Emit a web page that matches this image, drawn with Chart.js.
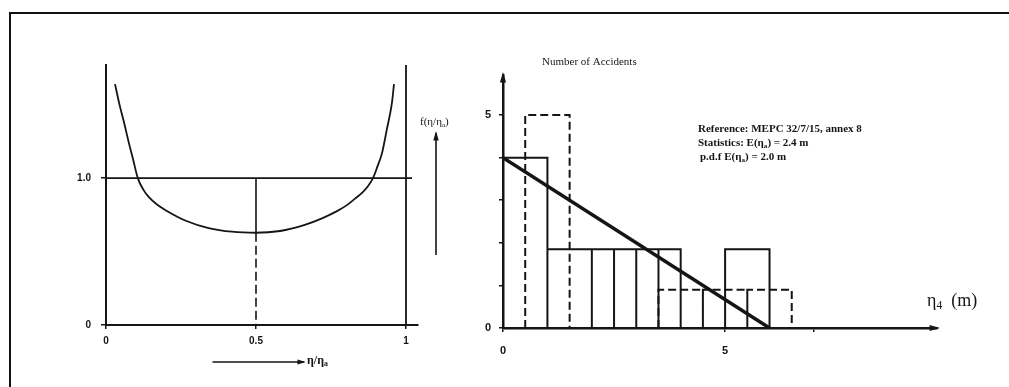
<!DOCTYPE html>
<html>
<head>
<meta charset="utf-8">
<script src="https://cdn.jsdelivr.net/npm/chart.js@4"></script>
<style>
  body { margin: 0; background: #fff; }
  .wrap { position: relative; width: 1009px; height: 387px; overflow: hidden; }
  .frame { position: absolute; left: 9px; top: 12px; width: 1100px; height: 400px;
           border-top: 2px solid #111; border-left: 2px solid #111; }
  #left { position: absolute; left: 0; top: 0; }
  #right { position: absolute; left: 470px; top: 0; }
</style>
</head>
<body>
<div class="wrap">
  <div class="frame"></div>
  <canvas id="left" width="470" height="387"></canvas>
  <canvas id="right" width="539" height="387"></canvas>
</div>
<script>
// left panel: f(eta/eta_a) curve
const curveX = [0.03, 0.045, 0.06, 0.075, 0.09, 0.106, 0.125, 0.143, 0.17, 0.2, 0.266, 0.342, 0.42, 0.5, 0.58, 0.66, 0.722, 0.77, 0.803, 0.83, 0.856, 0.875, 0.89, 0.905, 0.92, 0.936, 0.953, 0.96];
const curveY = [1.64, 1.5, 1.38, 1.25, 1.13, 1.0, 0.92, 0.87, 0.82, 0.78, 0.71, 0.66, 0.635, 0.628, 0.64, 0.68, 0.728, 0.775, 0.816, 0.86, 0.905, 0.95, 1.0, 1.08, 1.17, 1.33, 1.51, 1.64];
const leftXTicks = [0, 0.5, 1];
const leftXLabels = ['0', '0.5', '1'];
const leftYTicks = [0, 1];
const leftYLabels = ['0', '1.0'];

// right panel: histograms of accidents (bin start, bin end, count)
const solidStart = [0, 1, 2, 2.5, 3, 3.5, 5];
const solidEnd = [1, 2, 2.5, 3, 3.5, 4, 6];
const solidCount = [4, 1.85, 1.85, 1.85, 1.85, 1.85, 1.85];
const dashStart = [0.5, 3.5, 4.5, 5.5];
const dashEnd = [1.5, 4.5, 5.5, 6.5];
const dashCount = [5, 0.9, 0.9, 0.9];
const trendX = [0, 6];
const trendY = [4, 0];
const rightXTicks = [0, 5, 7];
const rightXLabels = ['0', '5', ''];
const rightYTicks = [0, 1, 2, 3, 4, 5];
const rightYLabels = ['0', '', '', '', '', '5'];

const INK = '#151515';

// turns bins into outline points, null breaks the line between bins
const outline = (starts, ends, counts) => {
    const pts = [];
    starts.forEach((s, i) => {
        pts.push({x: s, y: 0}, {x: s, y: counts[i]}, {x: ends[i], y: counts[i]}, {x: ends[i], y: 0});
        pts.push({x: ends[i], y: null});
    });
    return pts;
};

const setTicks = (values) => (scale) => {
    scale.ticks = values.map(v => ({value: v}));
};

const arrow = (ctx, x1, y1, x2, y2, head) => {
    const a = Math.atan2(y2 - y1, x2 - x1);
    ctx.beginPath();
    ctx.moveTo(x1, y1);
    ctx.lineTo(x2, y2);
    ctx.stroke();
    ctx.beginPath();
    ctx.moveTo(x2 + Math.cos(a) * 2, y2 + Math.sin(a) * 2);
    ctx.lineTo(x2 - Math.cos(a - 0.35) * head, y2 - Math.sin(a - 0.35) * head);
    ctx.lineTo(x2 - Math.cos(a + 0.35) * head, y2 - Math.sin(a + 0.35) * head);
    ctx.closePath();
    ctx.fill();
};

// text with a subscript piece, parts = [[text, isSub], ...]
const subText = (ctx, parts, x, y, size, family, weight) => {
    let cx = x;
    parts.forEach(([t, sub]) => {
        const s = sub ? size * 0.65 : size;
        ctx.font = `${weight} ${s}px ${family}`;
        ctx.fillText(t, cx, sub ? y + size * 0.25 : y);
        cx += ctx.measureText(t).width;
    });
};

const leftDeco = {
    id: 'leftDeco',
    afterDraw(chart) {
        const ctx = chart.ctx;
        const xs = chart.scales.x;
        ctx.save();
        ctx.strokeStyle = INK;
        ctx.fillStyle = INK;
        ctx.lineWidth = 1.6;
        ctx.textBaseline = 'middle';
        // f(eta/eta_a) label with upward arrow
        subText(ctx, [['f(η/η', false], ['a', true], [')', false]], xs.right + 2, 122, 11, 'Liberation Serif', 'normal');
        arrow(ctx, xs.right + 18, 255, xs.right + 18, 133, 8);
        // eta/eta_a label with arrow under the x axis
        arrow(ctx, xs.getPixelForValue(0.355), 362, xs.getPixelForValue(0.66), 362, 7);
        subText(ctx, [['η/η', false], ['a', true]], xs.getPixelForValue(0.67), 361, 12, 'Liberation Serif', 'bold');
        ctx.restore();
    }
};

const rightDeco = {
    id: 'rightDeco',
    afterDraw(chart) {
        const ctx = chart.ctx;
        const {left, right, top, bottom} = chart.chartArea;
        ctx.save();
        ctx.strokeStyle = INK;
        ctx.fillStyle = INK;
        ctx.lineWidth = 2;
        // axis arrow heads
        arrow(ctx, left, top + 20, left, top - 1, 9);
        arrow(ctx, right - 20, bottom, right + 1, bottom, 9);
        ctx.textBaseline = 'middle';
        ctx.font = '11px Liberation Serif';
        ctx.fillText('Number of Accidents', left + 39, 62);
        ctx.font = 'bold 11px Liberation Serif';
        ctx.fillText('Reference: MEPC 32/7/15, annex 8', left + 195, 129);
        subText(ctx, [['Statistics: E(η', false], ['a', true], [') = 2.4 m', false]], left + 195, 143, 11, 'Liberation Serif', 'bold');
        subText(ctx, [['p.d.f E(η', false], ['a', true], [') = 2.0 m', false]], left + 197, 157, 11, 'Liberation Serif', 'bold');
        subText(ctx, [['η', false], ['4', true], ['  (m)', false]], right - 10, 301, 18, 'Liberation Serif', 'normal');
        ctx.restore();
    }
};

const leftChart = () => {
    const data = {
        datasets: [
            {
                data: curveX.map((x, i) => ({x: x, y: curveY[i]})),
                borderColor: INK, borderWidth: 1.8, cubicInterpolationMode: 'monotone', pointRadius: 0
            },
            {
                data: [{x: 0, y: 1}, {x: 1.02, y: 1}],
                borderColor: INK, borderWidth: 1.6, pointRadius: 0
            },
            {
                data: [{x: 0.5, y: 1}, {x: 0.5, y: 0.628}],
                borderColor: INK, borderWidth: 1.6, pointRadius: 0
            },
            {
                data: [{x: 0.5, y: 0.628}, {x: 0.5, y: 0}],
                borderColor: INK, borderWidth: 1.6, borderDash: [9, 4], pointRadius: 0
            },
            {
                data: [{x: 1, y: 0}, {x: 1, y: 1.77}],
                borderColor: INK, borderWidth: 1.8, pointRadius: 0
            }
        ]
    };
    const config = {
        type: 'line',
        data: data,
        options: {
            responsive: false,
            animation: false,
            layout: {padding: {top: 65, right: 52, left: 0, bottom: 0}},
            plugins: {legend: {display: false}, tooltip: {enabled: false}},
            scales: {
                x: {
                    type: 'linear', min: 0, max: 1.04,
                    afterBuildTicks: setTicks(leftXTicks),
                    afterFit: (s) => { s.height = 62; },
                    border: {display: true, color: INK, width: 2},
                    grid: {drawOnChartArea: false, tickLength: 4, color: INK, lineWidth: 1.5},
                    ticks: {
                        padding: 6, color: INK,
                        font: {family: 'Liberation Sans', size: 10, weight: 'bold'},
                        callback: (v) => leftXLabels[leftXTicks.indexOf(v)]
                    }
                },
                y: {
                    type: 'linear', min: 0, max: 1.77,
                    afterBuildTicks: setTicks(leftYTicks),
                    afterFit: (s) => { s.width = 106; },
                    border: {display: true, color: INK, width: 2},
                    grid: {drawOnChartArea: false, tickLength: 5, color: INK, lineWidth: 1.5},
                    ticks: {
                        padding: 10, color: INK,
                        font: {family: 'Liberation Sans', size: 10, weight: 'bold'},
                        callback: (v) => leftYLabels[leftYTicks.indexOf(v)]
                    }
                }
            }
        },
        plugins: [leftDeco]
    };
    new Chart(document.querySelector('#left'), config);
};

const rightChart = () => {
    const data = {
        datasets: [
            {
                data: outline(solidStart, solidEnd, solidCount),
                borderColor: INK, borderWidth: 2, pointRadius: 0, spanGaps: false
            },
            {
                data: outline(dashStart, dashEnd, dashCount),
                borderColor: INK, borderWidth: 2, borderDash: [8, 4], pointRadius: 0, spanGaps: false
            },
            {
                data: trendX.map((x, i) => ({x: x, y: trendY[i]})),
                borderColor: INK, borderWidth: 3.5, pointRadius: 0
            }
        ]
    };
    const config = {
        type: 'line',
        data: data,
        options: {
            responsive: false,
            animation: false,
            layout: {padding: {top: 75, right: 72, left: 0, bottom: 0}},
            plugins: {legend: {display: false}, tooltip: {enabled: false}},
            scales: {
                x: {
                    type: 'linear', min: 0, max: 9.77,
                    afterBuildTicks: setTicks(rightXTicks),
                    afterFit: (s) => { s.height = 59; },
                    border: {display: true, color: INK, width: 2.5},
                    grid: {drawOnChartArea: false, tickLength: 4, color: INK, lineWidth: 1.5},
                    ticks: {
                        padding: 12, color: INK,
                        font: {family: 'Liberation Sans', size: 11, weight: 'bold'},
                        callback: (v) => rightXLabels[rightXTicks.indexOf(v)]
                    }
                },
                y: {
                    type: 'linear', min: 0, max: 5.94,
                    afterBuildTicks: setTicks(rightYTicks),
                    afterFit: (s) => { s.width = 33; },
                    border: {display: true, color: INK, width: 2.5},
                    grid: {drawOnChartArea: false, tickLength: 4, color: INK, lineWidth: 1.5},
                    ticks: {
                        padding: 8, color: INK,
                        font: {family: 'Liberation Sans', size: 11, weight: 'bold'},
                        callback: (v) => rightYLabels[rightYTicks.indexOf(v)]
                    }
                }
            }
        },
        plugins: [rightDeco]
    };
    new Chart(document.querySelector('#right'), config);
};

leftChart();
rightChart();
</script>
</body>
</html>
